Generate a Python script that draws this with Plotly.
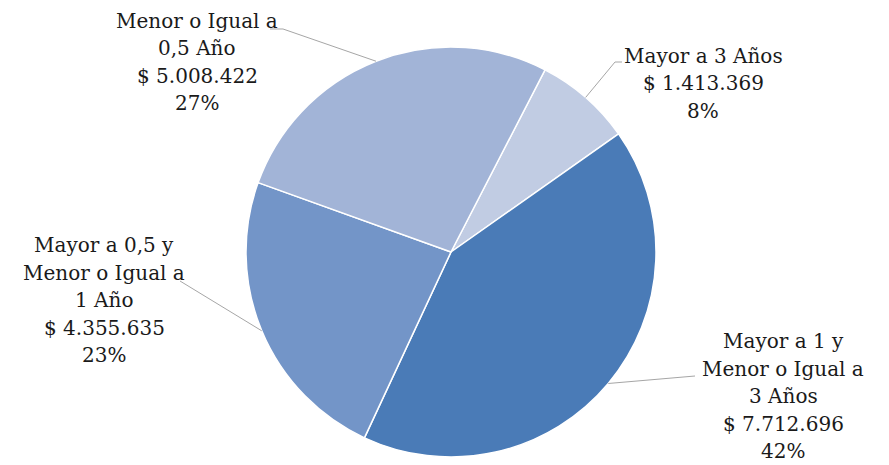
import math
import plotly.graph_objects as go

# ---- data ----
labels = ["Mayor a 3 Años", "Mayor a 1 y Menor o Igual a 3 Años",
          "Mayor a 0,5 y Menor o Igual a 1 Año", "Menor o Igual a 0,5 Año"]
label_lines = [["Mayor a 3 Años"],
               ["Mayor a 1 y", "Menor o Igual a", "3 Años"],
               ["Mayor a 0,5 y", "Menor o Igual a", "1 Año"],
               ["Menor o Igual a", "0,5 Año"]]
values = [1413369, 7712696, 4355635, 5008422]
colors = ["#C1CCE3", "#4A7BB7", "#7395C8", "#A2B4D7"]

W, H = 889, 465
OFF = 8  # page body margin in the browser
CX, CY, R = 451, 252, 205
ROT = 27.3
LINE_H = 27.5

# label layout (pixel positions of text block centers and leader elbows)
label_pos = [(703, 83), (783, 396), (104, 300), (197, 62)]
elbows = [[(615, 62), (622, 62)], [(695, 376)], [(180, 281)], [(283, 29), (270, 29)]]


def px(x, y):
    return (x - OFF) / W, 1 - (y - OFF) / H


def fmt_money(v):
    return "$ " + f"{v:,}".replace(",", ".")


total = sum(values)
# percentages rounded so that they add to 100 (largest remainder)
raw = [100 * v / total for v in values]
pcts = [math.floor(r) for r in raw]
order = sorted(range(len(raw)), key=lambda i: raw[i] - pcts[i], reverse=True)
for i in order[:100 - sum(pcts)]:
    pcts[i] += 1

x0, y1 = px(CX - R, CY - R)
x1, y0 = px(CX + R, CY + R)
fig = go.Figure(go.Pie(
    labels=labels, values=values, sort=False, direction="clockwise",
    rotation=ROT, textinfo="none", hoverinfo="label+value+percent",
    marker=dict(colors=colors, line=dict(color="white", width=1.5)),
    domain=dict(x=[x0, x1], y=[y0, y1]),
    showlegend=False,
))

shapes = []
annotations = []
cum = 0
for i, v in enumerate(values):
    mid = ROT + 360 * (cum + v / 2) / total
    cum += v
    ex = CX + R * math.sin(math.radians(mid))
    ey = CY - R * math.cos(math.radians(mid))
    pts = [(ex, ey)] + elbows[i]
    path = "M " + " L ".join(f"{px(x, y)[0]:.5f},{px(x, y)[1]:.5f}" for x, y in pts)
    shapes.append(dict(type="path", path=path, xref="paper", yref="paper",
                       line=dict(color="#A6A6A6", width=1)))
    lines = label_lines[i] + [fmt_money(v), f"{pcts[i]}%"]
    bx, by = label_pos[i]
    n = len(lines)
    for k, t in enumerate(lines):
        yy = by + (k - (n - 1) / 2) * LINE_H
        lx, ly = px(bx, yy)
        annotations.append(dict(
            x=lx, y=ly, xref="paper", yref="paper", xanchor="center", yanchor="middle",
            text=t, showarrow=False,
            font=dict(family="DejaVu Serif", size=20, color="#1a1a1a")))

fig.update_layout(
    width=W, height=H, margin=dict(l=0, r=0, t=0, b=0),
    paper_bgcolor="white", plot_bgcolor="white",
    shapes=shapes, annotations=annotations,
)

fig.write_html("out.html")
